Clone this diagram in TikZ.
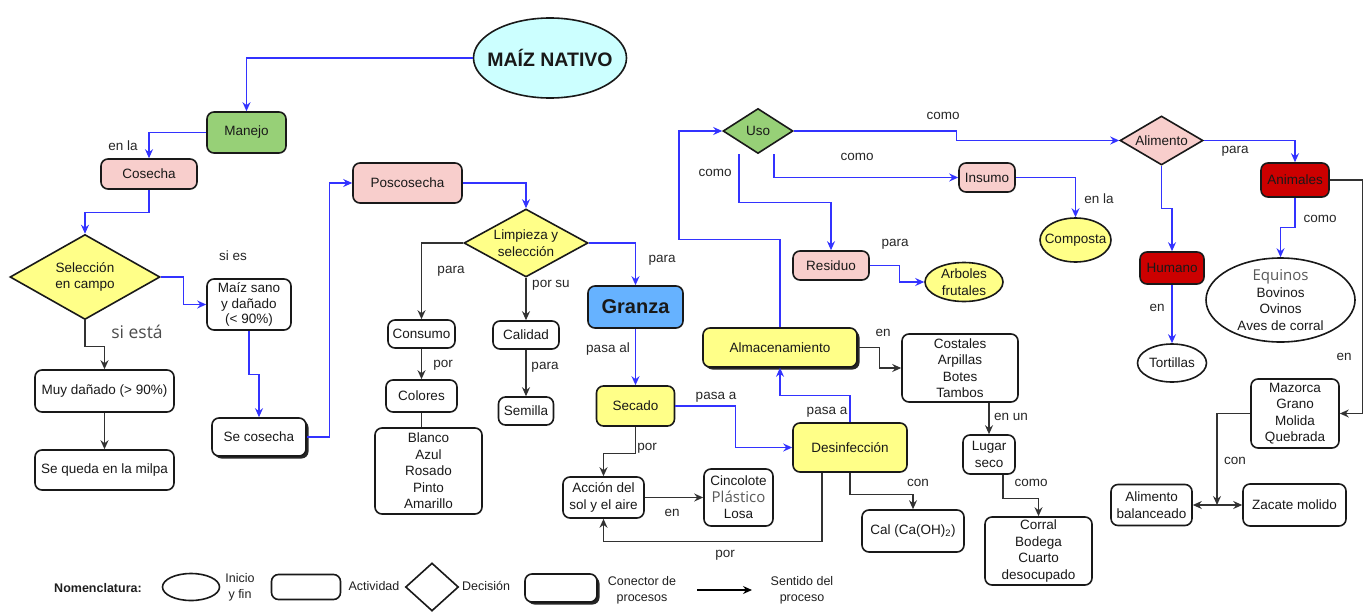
\documentclass[tikz,border=0pt]{standalone}
\usepackage{fontspec}
\setmainfont{Liberation Sans}
\newfontfamily\osfont{Open Sans}
\usetikzlibrary{shapes.geometric,arrows.meta,shadows}
\definecolor{bl}{RGB}{51,51,255}
\definecolor{gln}{RGB}{50,50,50}
\definecolor{fgreen}{HTML}{97D077}
\definecolor{fpink}{HTML}{F8CECC}
\definecolor{fyel}{HTML}{FFFF88}
\definecolor{fblue}{HTML}{66B2FF}
\definecolor{fred}{HTML}{CC0000}
\definecolor{fcyan}{HTML}{CCFFFF}
\newcommand{\nf}{\fontsize{13.5}{16.5}\selectfont}
\newcommand{\lf}{\fontsize{12.5}{16}\selectfont}
\tikzset{
  base/.style={draw=black!90, line width=1.6pt, align=center, inner sep=0pt, font=\nf, text=black!90},
  box/.style={base, rounded corners=7pt, fill=white},
  conn/.style={box, general shadow={fill=black!85, shadow xshift=2.5pt, shadow yshift=-2.5pt}},
  dia/.style={base, diamond, inner sep=-3pt},
  ell/.style={base, ellipse, fill=white},
  >={Stealth[length=9pt,width=8pt,inset=3pt]},
  bline/.style={draw=bl, line width=1.3pt, ->},
  kline/.style={draw=gln, line width=1.3pt, ->},
  lbl/.style={font=\nf, text=black!85, inner sep=0pt},
  leg/.style={font=\lf, text=black!88, inner sep=0pt, align=center},
}
\begin{document}
\begin{tikzpicture}[x=1pt,y=-1pt]
\useasboundingbox (0,0) rectangle (1364,613);

% nodes
\node[ell, fill=fcyan, font=\fontsize{19.5}{22}\selectfont\bfseries, minimum width=153pt, minimum height=80pt, inner sep=-12pt] (title) at (550,58) {MAÍZ NATIVO};
\node[box, fill=fgreen, minimum width=79pt, minimum height=41pt] (manejo) at (246.5,132.5) {Manejo};
\node[box, fill=fpink, minimum width=96pt, minimum height=30pt] (cosecha) at (149,174) {Cosecha};
\node[dia, fill=fyel, minimum width=150pt, minimum height=85pt, aspect=1.76] (sel) at (85,277) {Selección\\en campo};
\node[box, minimum width=84pt, minimum height=51pt, font=\fontsize{13.5}{15.5}\selectfont] (maiz) at (249,304.5) {Maíz sano\\y dañado\\(< 90\%)};
\node[box, minimum width=139pt, minimum height=42pt] (muy) at (104.5,391) {Muy dañado (> 90\%)};
\node[box, minimum width=139pt, minimum height=40pt] (queda) at (104.5,470) {Se queda en la milpa};
\node[conn, minimum width=94pt, minimum height=38pt] (secos) at (259,437) {Se cosecha};
\node[box, fill=fpink, minimum width=109pt, minimum height=40pt] (posc) at (407.5,183) {Poscosecha};
\node[dia, fill=fyel, minimum width=124pt, minimum height=68pt, aspect=1.82] (limp) at (526,243) {Limpieza y\\selección};
\node[box, minimum width=67pt, minimum height=28pt] (consumo) at (421.5,334) {Consumo};
\node[box, minimum width=66pt, minimum height=28pt] (calidad) at (526,335) {Calidad};
\node[box, fill=fblue, minimum width=95pt, minimum height=42pt, font=\fontsize{20}{24}\selectfont\bfseries] (granza) at (635.5,307) {Granza};
\node[box, minimum width=71pt, minimum height=32pt] (colores) at (421.5,396) {Colores};
\node[box, minimum width=107pt, minimum height=86pt] (lista) at (428.5,471) {Blanco\\Azul\\Rosado\\Pinto\\Amarillo};
\node[box, minimum width=55pt, minimum height=28pt] (semilla) at (526,411) {Semilla};
\node[box, fill=fyel, minimum width=78pt, minimum height=40pt] (secado) at (635.5,406) {Secado};
\node[box, fill=fyel, minimum width=114pt, minimum height=49pt] (desinf) at (850,447.5) {Desinfección};
\node[box, minimum width=81pt, minimum height=41pt] (accion) at (603.5,497.5) {Acción del\\sol y el aire};
\node[box, minimum width=69pt, minimum height=57pt] (cinco) at (738.5,497.5) {Cincolote\\{\osfont\fontsize{15}{16.5}\selectfont\color{black!65}Plástico}\\Losa};
\node[box, minimum width=102pt, minimum height=42pt] (cal) at (913,531) {Cal (Ca(OH)\textsubscript{2})};
\node[conn, fill=fyel, minimum width=154pt, minimum height=39pt] (almac) at (780,347.5) {Almacenamiento};
\node[box, minimum width=116pt, minimum height=68pt] (costales) at (960,368) {Costales\\Arpillas\\Botes\\Tambos};
\node[box, minimum width=52pt, minimum height=39pt] (lugar) at (989,454.5) {Lugar\\seco};
\node[box, minimum width=107pt, minimum height=68pt] (corral) at (1038.5,551) {Corral\\Bodega\\Cuarto\\desocupado};
\node[dia, fill=fgreen, minimum width=70pt, minimum height=45pt, aspect=1.55] (uso) at (758,131) {Uso};
\node[box, fill=fpink, minimum width=76pt, minimum height=29pt] (residuo) at (831,265.5) {Residuo};
\node[ell, fill=fyel, minimum width=78pt, minimum height=39pt, inner sep=-6pt] (arboles) at (964,282) {Arboles\\frutales};
\node[box, fill=fpink, minimum width=56pt, minimum height=29pt] (insumo) at (987,177.5) {Insumo};
\node[ell, fill=fyel, minimum width=71pt, minimum height=44pt, inner sep=-6pt] (composta) at (1075.5,240) {Composta};
\node[dia, fill=fpink, minimum width=83pt, minimum height=49pt, aspect=1.7] (alim) at (1161.5,140.5) {Alimento};
\node[box, fill=fred, minimum width=68pt, minimum height=34pt] (animales) at (1295,180) {Animales};
\node[box, fill=fred, minimum width=64pt, minimum height=32pt] (humano) at (1172,268) {Humano};
\node[ell, minimum width=69pt, minimum height=38pt, inner sep=-6pt] (tortillas) at (1172,363) {Tortillas};
\node[ell, minimum width=149pt, minimum height=84pt, inner sep=-8pt] (equinos) at (1280.5,300) {{\osfont\fontsize{15}{16.5}\selectfont\color{black!65}Equinos}\\Bovinos\\Ovinos\\Aves de corral};
\node[box, minimum width=88pt, minimum height=69pt] (mazorca) at (1295,413.5) {Mazorca\\Grano\\Molida\\Quebrada};
\node[box, minimum width=81pt, minimum height=41pt] (alimbal) at (1151.5,505) {Alimento\\balanceado};
\node[box, minimum width=103pt, minimum height=42pt] (zacate) at (1294.5,505) {Zacate molido};
\coordinate (junc) at (1217,505);

% connectors
\draw[bline] (title.west) -| (manejo.north);
\draw[bline] (manejo.west) -| (cosecha.north);
\draw[bline] (cosecha.south) -- ++(0,23) -| (sel.north);
\draw[bline] (sel.east) -- ++(23,0) |- (maiz.west);
\draw[kline] (sel.south) -- ++(0,26) -| (muy.north);
\draw[kline] (muy.south) -- (queda.north);
\draw[bline] (maiz.south) -- ++(0,44) -| (secos.north);
\draw[bline] (secos.east) -- ++(23,0) |- (posc.west);
\draw[bline] (posc.east) -| (limp.north);
\draw[kline] (limp.west) -| (consumo.north);
\draw[kline] (limp.south) -- (calidad.north);
\draw[bline] (limp.east) -| (granza.north);
\draw[kline] (consumo.south) -- (colores.north);
\draw[kline,-] (colores.south) -- (colores.south |- lista.north);
\draw[kline] (calidad.south) -- (semilla.north);
\draw[bline] (granza.south) -- (secado.north);
\draw[bline] (secado.east) -- ++(60,0) |- (desinf.west);
\draw[kline] (secado.south) -- ++(0,27) -| (accion.north);
\draw[kline] (accion.east) -- (cinco.west);
\draw[kline] ([xshift=-28pt]desinf.south) -- ++(0,69) -| (accion.south);
\draw[bline] (desinf.north) -- ++(0,-27) -| (almac.south);
\draw[kline] (desinf.south) -- ++(0,22) -| (cal.north);
\draw[bline] (almac.north) -- ++(0,-88) -- ++(-101,0) |- (uso.west);
\draw[kline] (almac.east) -- ++(22,0) |- (costales.west);
\draw[kline] (lugar.north |- costales.south) -- (lugar.north);
\draw[kline] ([xshift=14pt]lugar.south) -- ++(0,24) -| (corral.north);
\draw[bline] (uso.east) -- ++(163,0) |- (alim.west);
\draw[bline] ([xshift=16pt]uso.south) |- (insumo.west);
\draw[bline] ([xshift=-19pt]uso.south) -- ++(0,48.5) -| (residuo.north);
\draw[bline] (residuo.east) -- ++(30,0) |- (arboles.west);
\draw[bline] (insumo.east) -| (composta.north);
\draw[bline] (alim.east) -| (animales.north);
\draw[bline] (alim.south) -- ++(0,43) -| (humano.north);
\draw[bline] (humano.south) -- (tortillas.north);
\draw[bline] (animales.south) -- ++(0,30) -| (equinos.north);
\draw[kline] (animales.east) -- ++(33,0) |- (mazorca.east);
\draw[kline] (mazorca.west) -| (junc);
\draw[kline,<->] (alimbal.east) -- (zacate.west);

% labels
\node[lbl] (l1) at (123,146) {en la};
\node[lbl] (l2) at (233,256) {si es};
\node[lbl, font=\osfont\fontsize{17.5}{20}\selectfont, text=black!70] (l3) at (137,332) {si está};
\node[lbl] (l4) at (451,271) {para};
\node[lbl] (l5) at (551,285) {por su};
\node[lbl] (l6) at (662,260) {para};
\node[lbl] (l7) at (443,365) {por};
\node[lbl] (l8) at (545,367) {para};
\node[lbl] (l9) at (608,349) {pasa al};
\node[lbl] (l10) at (716,397) {pasa a};
\node[lbl] (l11) at (647,448) {por};
\node[lbl] (l12) at (672,513) {en};
\node[lbl] (l13) at (725,555) {por};
\node[lbl] (l14) at (827,412) {pasa a};
\node[lbl] (l15) at (918,483) {con};
\node[lbl] (l16) at (883,333) {en};
\node[lbl] (l17) at (1011,417) {en un};
\node[lbl] (l18) at (1031,483) {como};
\node[lbl] (l19) at (943,116) {como};
\node[lbl] (l20) at (857,157) {como};
\node[lbl] (l21) at (715,173) {como};
\node[lbl] (l22) at (895,244) {para};
\node[lbl] (l23) at (1099,199) {en la};
\node[lbl] (l24) at (1235,151) {para};
\node[lbl] (l25) at (1320,219) {como};
\node[lbl] (l26) at (1157,308) {en};
\node[lbl] (l27) at (1344,357) {en};
\node[lbl] (l28) at (1235,461) {con};

% legend
\node[leg, font=\lf\bfseries] (nom) at (98,588) {Nomenclatura:};
\node[ell, inner sep=0pt, minimum width=57pt, minimum height=27pt] (lell) at (191,587) {};
\node[leg] (linicio) at (240,587) {Inicio\\y fin};
\node[box, minimum width=69pt, minimum height=25pt] (lbox) at (306,587) {};
\node[leg] (lact) at (374,586) {Actividad};
\node[base, diamond, fill=white, minimum width=53pt, minimum height=48pt] (ldia) at (432,587) {};
\node[leg] (ldec) at (486,586) {Decisión};
\node[conn, minimum width=72pt, minimum height=28pt] (lconn) at (561,588) {};
\node[leg] (lconntxt) at (642,590) {Conector de\\procesos};
\coordinate (la1) at (697,590);
\coordinate (la2) at (752,590);
\draw[draw=black, line width=1.3pt, ->] (la1) -- (la2);
\node[leg] (lsent) at (802,590) {Sentido del\\proceso};
\end{tikzpicture}
\end{document}
